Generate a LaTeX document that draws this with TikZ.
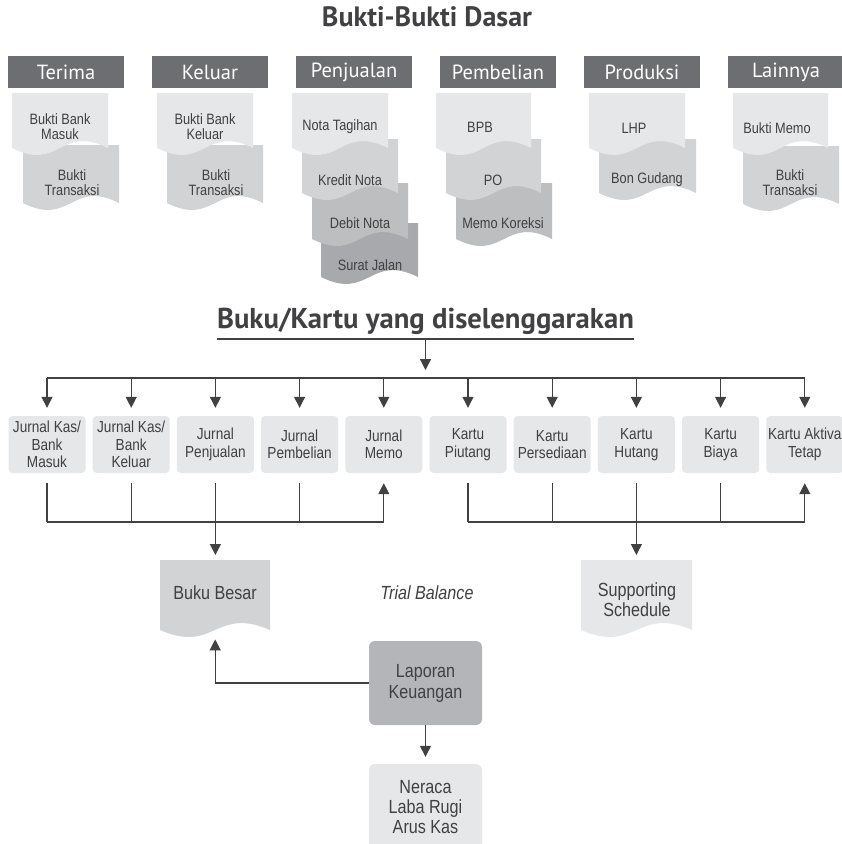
\documentclass[tikz,border=0pt]{standalone}
\usepackage{fontspec}
\setmainfont{Liberation Sans}[FakeStretch=0.85]
\newfontfamily\headfont{PT Sans}
\usetikzlibrary{arrows.meta}

\definecolor{ink}{HTML}{414042}
\definecolor{barfill}{HTML}{6D6E71}
\definecolor{paperA}{HTML}{E6E7E8}
\definecolor{paperB}{HTML}{D1D3D4}
\definecolor{paperC}{HTML}{BCBEC0}
\definecolor{paperD}{HTML}{A7A9AC}
\definecolor{report}{HTML}{B3B5B8}

% wavy-bottom document: name, fill, left x, top y, width, body height
\newcommand\wavedoc[6]{%
  \pgfmathsetmacro\wxb{#3+#5}%
  \pgfmathsetmacro\wyb{#4+#6}%
  \pgfmathsetmacro\wxm{#3+0.5*#5}%
  \pgfmathsetmacro\wyu{#4+#6-24}%
  \pgfmathsetmacro\wyd{#4+#6+24}%
  \pgfmathsetmacro\wh{#6+9}%
  \fill[#2] (#3,#4) -- (\wxb,#4) -- (\wxb,\wyb)
     .. controls (\wxm,\wyu) and (\wxm,\wyd) .. (#3,\wyb) -- cycle;
  \node[inner sep=0pt, minimum width=#5pt, minimum height=\wh pt,
        anchor=north west] (#1) at (#3,#4) {};%
}

\tikzset{
  headbar/.style={fill=barfill, text=white, minimum width=116pt, minimum height=32pt,
    inner sep=0pt, font=\headfont\fontsize{20.5}{20.5}\selectfont},
  doctext/.style={text=ink, align=center, inner sep=0pt,
    font=\fontsize{15}{15}\selectfont},
  bigtext/.style={text=ink, align=center, inner sep=0pt,
    font=\fontsize{19}{20}\selectfont},
  jbox/.style={fill=paperA, rounded corners=4pt, minimum width=77pt, minimum height=57pt,
    inner sep=0pt, align=center, text=ink, font=\fontsize{16}{17.5}\selectfont},
  repbox/.style={rounded corners=6pt, minimum width=113pt, inner sep=0pt,
    align=center, text=ink},
  wire/.style={draw=ink, line width=1.2pt},
  arr/.style={wire, -{Triangle[width=11pt,length=11pt]}},
}

\begin{document}
\begin{tikzpicture}[x=1pt,y=-1pt]
\useasboundingbox (0,0) rectangle (842,844);
\fill[white] (0,0) rectangle (842,844);

% ---- titles ----
\node[text=ink, inner sep=0pt, anchor=base, font=\headfont\bfseries\fontsize{28}{28}\selectfont]
  (maintitle) at (427,26) {Bukti-Bukti Dasar};

% ---- category bars ----
\node[headbar] (h1) at (66,72)  {Terima};
\node[headbar] (h2) at (210,72) {Keluar};
\node[headbar] (h3) at (354,72) {Penjualan};
\node[headbar] (h4) at (498,72) {Pembelian};
\node[headbar] (h5) at (642,72) {Produksi};
\node[headbar] (h6) at (786,72) {Lainnya};

% ---- source documents (lower sheets first) ----
\wavedoc{d1b}{paperB}{23}{145}{96}{58}
\wavedoc{d1a}{paperA}{12}{93}{96}{55}
\wavedoc{d2b}{paperB}{167}{145}{96}{58}
\wavedoc{d2a}{paperA}{157}{93}{96}{55}
\wavedoc{d3d}{paperD}{321}{223}{97}{54}
\wavedoc{d3c}{paperC}{312}{183}{96}{56}
\wavedoc{d3b}{paperB}{302}{139}{96}{54}
\wavedoc{d3a}{paperA}{292}{93}{96}{55}
\wavedoc{d4c}{paperC}{456}{183}{96}{56}
\wavedoc{d4b}{paperB}{446}{139}{95}{54}
\wavedoc{d4a}{paperA}{436}{93}{95}{55}
\wavedoc{d5b}{paperB}{599}{139}{97}{54}
\wavedoc{d5a}{paperA}{589}{93}{96}{55}
\wavedoc{d6b}{paperB}{743}{146}{96}{58}
\wavedoc{d6a}{paperA}{733}{93}{95}{55}

\node[doctext] (d1at) at (60,127)  {Bukti Bank\\Masuk};
\node[doctext] (d1bt) at (72,183)  {Bukti\\Transaksi};
\node[doctext] (d2at) at (205,127) {Bukti Bank\\Keluar};
\node[doctext] (d2bt) at (216,183) {Bukti\\Transaksi};
\node[doctext] (d3at) at (340,127) {Nota Tagihan};
\node[doctext] (d3bt) at (350,180) {Kredit Nota};
\node[doctext] (d3ct) at (360,223) {Debit Nota};
\node[doctext] (d3dt) at (370,265) {Surat Jalan};
\node[doctext] (d4at) at (480,127) {BPB};
\node[doctext] (d4bt) at (493,180) {PO};
\node[doctext] (d4ct) at (503,223) {Memo Koreksi};
\node[doctext] (d5at) at (634,128) {LHP};
\node[doctext] (d5bt) at (647,180) {Bon Gudang};
\node[doctext] (d6at) at (777,128) {Bukti Memo};
\node[doctext] (d6bt) at (790,183) {Bukti\\Transaksi};

% ---- books and cards ----
\node[text=ink, inner sep=0pt, anchor=base, font=\headfont\bfseries\fontsize{28.7}{28.7}\selectfont]
  (booktitle) at (425.5,328) {Buku/Kartu yang diselenggarakan};
\draw[wire] ([yshift=-11pt]booktitle.base west) -- ([yshift=-11pt]booktitle.base east);

\node[jbox] (j1)  at (47,444.5)    {Jurnal Kas/\\Bank\\Masuk};
\node[jbox] (j2)  at (131.2,444.5) {Jurnal Kas/\\Bank\\Keluar};
\node[jbox] (j3)  at (215.4,444.5) {Jurnal\\Penjualan};
\node[jbox] (j4)  at (299.6,444.5) {Jurnal\\Pembelian};
\node[jbox] (j5)  at (383.8,444.5) {Jurnal\\Memo};
\node[jbox] (j6)  at (468,444.5)   {Kartu\\Piutang};
\node[jbox] (j7)  at (552.2,444.5) {Kartu\\Persediaan};
\node[jbox] (j8)  at (636.4,444.5) {Kartu\\Hutang};
\node[jbox] (j9)  at (720.6,444.5) {Kartu\\Biaya};
\node[jbox] (j10) at (804.8,444.5) {Kartu Aktiva\\Tetap};

\coordinate (hub) at (425.5,370);
\coordinate (topbus) at (0,378);
\coordinate (lowbus) at (0,522);

\draw[arr] ([yshift=-11pt]booktitle.base) -- (booktitle.base |- hub);
\draw[wire] (j1.north |- topbus) -- (j10.north |- topbus);
\foreach \j in {j1,j2,j3,j4,j5,j6,j7,j8,j9,j10}
  \draw[arr, shorten >=8pt] (\j.north |- topbus) -- (\j.north);

% ---- ledger and supporting schedule ----
\wavedoc{bb}{paperB}{160}{560}{110}{70}
\wavedoc{ss}{paperA}{581}{560}{111}{70}
\node[bigtext] (bbt) at (215,593) {Buku Besar};
\node[bigtext] (sst) at (637,600) {Supporting\\Schedule};
\node[bigtext, font=\itshape\fontsize{19}{20}\selectfont] (tb) at (427,593) {Trial Balance};

% journals to ledger
\draw[wire] (j1.south |- lowbus) -- (j5.south |- lowbus);
\foreach \j in {j1,j2,j4}
  \draw[wire, shorten <=10pt] (\j.south) -- (\j.south |- lowbus);
\draw[arr, shorten >=10pt] (j5.south |- lowbus) -- (j5.south);
\draw[arr, shorten <=10pt, shorten >=5pt] (j3.south) -- (j3.south |- bb.north);

% cards to supporting schedule
\draw[wire] (j6.south |- lowbus) -- (j10.south |- lowbus);
\foreach \j in {j6,j7,j9}
  \draw[wire, shorten <=10pt] (\j.south) -- (\j.south |- lowbus);
\draw[arr, shorten >=10pt] (j10.south |- lowbus) -- (j10.south);
\draw[arr, shorten <=10pt, shorten >=5pt] (j8.south) -- (j8.south |- ss.north);

% ---- financial statements ----
\node[repbox, fill=report, minimum height=84pt, font=\fontsize{19}{21}\selectfont]
  (lk) at (425.5,683) {Laporan\\Keuangan};
\node[repbox, fill=paperA, minimum height=86pt, font=\fontsize{19}{20}\selectfont]
  (nr) at (425.5,807) {Neraca\\Laba Rugi\\Arus Kas};

\draw[arr] (lk.west) -| (bb.south);
\draw[arr, shorten >=7pt] (lk.south) -- (nr.north);
\end{tikzpicture}
\end{document}
